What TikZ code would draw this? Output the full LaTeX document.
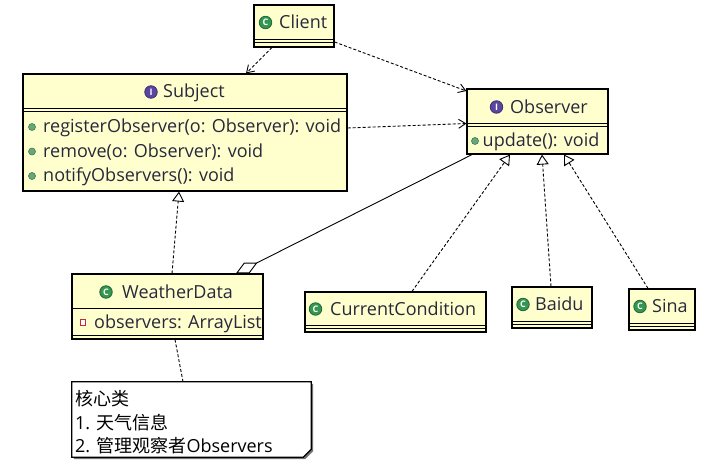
\documentclass[tikz,border=0pt]{standalone}
\usepackage{fontspec}
\setmainfont{Open Sans}
\newfontfamily\cjk{Noto Sans CJK SC}
\usetikzlibrary{arrows.meta}
\definecolor{boxfill}{RGB}{255,255,206}
\definecolor{txt}{RGB}{40,40,60}
\definecolor{cgreen}{RGB}{52,150,80}
\definecolor{ipurple}{RGB}{90,70,160}
\definecolor{opgreen}{RGB}{100,170,120}
\definecolor{attred}{RGB}{200,40,60}
\begin{document}
\begin{tikzpicture}[x=1pt,y=-1pt,
  box/.style={draw=black,line width=1.2pt,fill=boxfill,inner sep=0pt,rectangle},
  sepline/.style={draw=black,line width=1.2pt},
  lbl/.style={font=\fontsize{18}{22}\selectfont,text=txt,inner sep=0pt,anchor=base west},
  cicon/.style={circle,fill=cgreen,draw=cgreen!70!black,line width=0.8pt,inner sep=0pt,minimum width=12.5pt,minimum height=12.5pt,text=white,font=\fontsize{9}{9}\selectfont\bfseries},
  iicon/.style={cicon,fill=ipurple,draw=ipurple!70!black},
  opdot/.style={circle,fill=opgreen,draw=opgreen!70!black,line width=0.6pt,inner sep=0pt,minimum width=7pt,minimum height=7pt},
  attsq/.style={rectangle,draw=attred,fill=white,line width=1.3pt,inner sep=0pt,minimum width=5.5pt,minimum height=5.5pt},
  dashline/.style={dash pattern=on 3pt off 2pt,line width=0.9pt},
  dep/.style={dashline,-{Straight Barb[length=7pt,width=9pt,line width=0.9pt]}},
  real/.style={dashline,-{Triangle[open,length=10pt,width=12pt,line width=0.9pt]}},
  agg/.style={line width=0.9pt,{Diamond[open,length=24pt,width=12pt,line width=0.9pt]}-},
  notearea/.style={rectangle,draw=none,inner sep=0pt}
]
\useasboundingbox (0,0) rectangle (705,465);
\fill[white] (0,0) rectangle (705,465);

% Client
\node[box,minimum width=80pt,minimum height=42pt] (client) at (294,26) {};
\draw[sepline] ([yshift=-35pt]client.north west) -- ([yshift=-35pt]client.north east);
\draw[sepline] ([yshift=-38.5pt]client.north west) -- ([yshift=-38.5pt]client.north east);
\node[cicon] (clientI) at (265.5,22.5) {C};
\node[lbl] (clientT) at (279,29) {Client};

% Subject
\node[box,minimum width=324pt,minimum height=117pt] (subject) at (185,132.5) {};
\draw[sepline] ([yshift=-35pt]subject.north west) -- ([yshift=-35pt]subject.north east);
\draw[sepline] ([yshift=-38.5pt]subject.north west) -- ([yshift=-38.5pt]subject.north east);
\node[iicon] (subjectI) at (151,92) {I};
\node[lbl] (subjectT) at (163,98) {Subject};
\node[opdot] (subjectD1) at (32,127) {};
\node[lbl] (subjectO1) at (43,133) {registerObserver(o: Observer): void};
\node[opdot] (subjectD2) at (32,151.5) {};
\node[lbl] (subjectO2) at (43,157.5) {remove(o: Observer): void};
\node[opdot] (subjectD3) at (32,176) {};
\node[lbl] (subjectO3) at (43,182) {notifyObservers(): void};

% Observer
\node[box,minimum width=141pt,minimum height=65pt] (observer) at (537.5,121.5) {};
\draw[sepline] ([yshift=-35pt]observer.north west) -- ([yshift=-35pt]observer.north east);
\draw[sepline] ([yshift=-38.5pt]observer.north west) -- ([yshift=-38.5pt]observer.north east);
\node[iicon] (observerI) at (496.5,107) {I};
\node[lbl] (observerT) at (510,113.5) {Observer};
\node[opdot] (observerD1) at (475,141) {};
\node[lbl] (observerO1) at (482.5,147) {update(): void};

% WeatherData
\node[box,minimum width=191pt,minimum height=65pt] (weather) at (167.5,306.5) {};
\draw[sepline] ([yshift=-35pt]weather.north west) -- ([yshift=-35pt]weather.north east);
\draw[sepline] ([yshift=-62pt]weather.north west) -- ([yshift=-62pt]weather.north east);
\node[cicon] (weatherI) at (106,292) {C};
\node[lbl] (weatherT) at (122,298.5) {WeatherData};
\node[attsq] (weatherA) at (83,322.5) {};
\node[lbl] (weatherA1) at (94,328.5) {observers: ArrayList};

% CurrentCondition
\node[box,minimum width=181pt,minimum height=40pt] (current) at (395.5,312) {};
\draw[sepline] ([yshift=-34pt]current.north west) -- ([yshift=-34pt]current.north east);
\draw[sepline] ([yshift=-37pt]current.north west) -- ([yshift=-37pt]current.north east);
\node[cicon] (currentI) at (315.5,309) {C};
\node[lbl] (currentT) at (330,315.5) {CurrentCondition};

% Baidu
\node[box,minimum width=80pt,minimum height=41pt] (baidu) at (552,307.5) {};
\draw[sepline] ([yshift=-35pt]baidu.north west) -- ([yshift=-35pt]baidu.north east);
\draw[sepline] ([yshift=-38pt]baidu.north west) -- ([yshift=-38pt]baidu.north east);
\node[cicon] (baiduI) at (523,304.5) {C};
\node[lbl] (baiduT) at (535,311) {Baidu};

% Sina
\node[box,minimum width=66pt,minimum height=41pt] (sina) at (662,309.5) {};
\draw[sepline] ([yshift=-35pt]sina.north west) -- ([yshift=-35pt]sina.north east);
\draw[sepline] ([yshift=-38pt]sina.north west) -- ([yshift=-38pt]sina.north east);
\node[cicon] (sinaI) at (640,306.5) {C};
\node[lbl] (sinaT) at (652,313) {Sina};

% Note (cut corner, shadow)
\node[notearea,minimum width=239pt,minimum height=75pt] (note) at (191.5,419.5) {};
\fill[black!55] ([shift={(2pt,-2pt)}]note.north west) -- ([shift={(2pt,-2pt)}]note.north east)
  -- ([shift={(2pt,6pt)}]note.south east) -- ([shift={(-6pt,-2pt)}]note.south east)
  -- ([shift={(2pt,-2pt)}]note.south west) -- cycle;
\filldraw[fill=white,draw=black,line width=1.2pt] (note.north west) -- (note.north east)
  -- ([yshift=8pt]note.south east) -- ([xshift=-8pt]note.south east)
  -- (note.south west) -- cycle;
\node[lbl,text=black] (noteL1) at (75,406) {\cjk 核心类};
\node[lbl,text=black] (noteL2) at (75,429) {1. {\cjk 天气信息}};
\node[lbl,text=black] (noteL3) at (75,452) {2. {\cjk 管理观察者}Observers};

% Connectors
\draw[dep] ([xshift=-22pt]client.south) -- ([xshift=61pt]subject.north);
\draw[dep] ([yshift=-16pt]client.east) -- ([yshift=30.5pt]observer.west);
\draw[dep] ([yshift=4.5pt]subject.east) -- ([yshift=-2pt]observer.west);
\draw[real] ([xshift=4.5pt]weather.north) -- ([xshift=-6pt]subject.south);
\draw[agg] ([xshift=68.5pt]weather.north) -- ([xshift=-65.5pt]observer.south);
\draw[real] ([xshift=16.5pt]current.north) -- ([xshift=-27.5pt]observer.south);
\draw[real] ([xshift=-1pt]baidu.north) -- ([xshift=4.5pt]observer.south);
\draw[real] ([xshift=-14pt]sina.north) -- ([xshift=26.5pt]observer.south);
\draw[dashline] ([xshift=-8.5pt]note.north) -- ([xshift=7.5pt]weather.south);
\end{tikzpicture}
\end{document}
